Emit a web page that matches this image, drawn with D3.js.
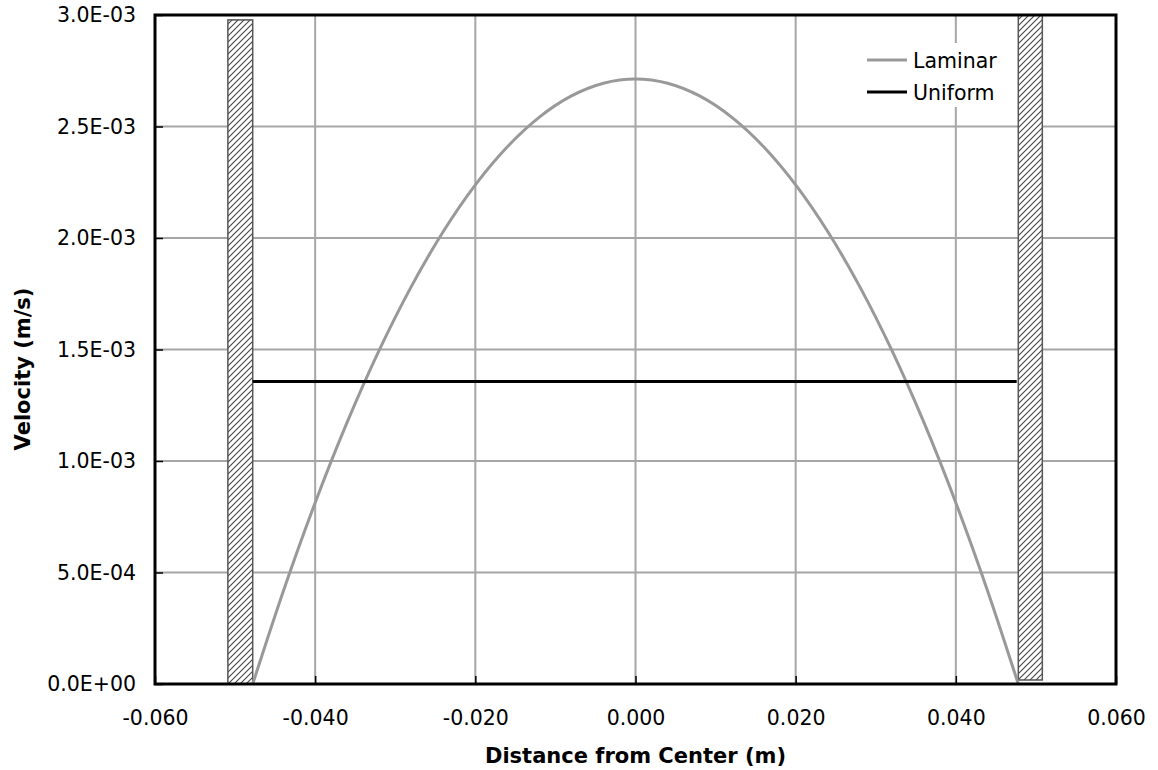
<!DOCTYPE html>
<html>
<head>
<meta charset="utf-8">
<script src="https://cdn.jsdelivr.net/npm/d3@7"></script>
<style>
  html, body { margin: 0; padding: 0; background: #fff; }
  svg { display: block; }
  text { font-family: "DejaVu Sans", Verdana, sans-serif; fill: #000; }
</style>
</head>
<body>
<svg id="chart" width="1158" height="770"></svg>
<script>
// Velocity profiles across the pipe
const positions = [-0.0478, -0.044, -0.040, -0.036, -0.032, -0.028, -0.024, -0.020, -0.016, -0.012, -0.008, -0.004,
                   0.000, 0.004, 0.008, 0.012, 0.016, 0.020, 0.024, 0.028, 0.032, 0.036, 0.040, 0.044, 0.0478];
const laminar = [0, 0.414e-3, 0.813e-3, 1.174e-3, 1.497e-3, 1.782e-3, 2.029e-3, 2.238e-3, 2.409e-3, 2.542e-3, 2.637e-3, 2.694e-3,
                 2.713e-3, 2.694e-3, 2.637e-3, 2.542e-3, 2.409e-3, 2.238e-3, 2.029e-3, 1.782e-3, 1.497e-3, 1.174e-3, 0.813e-3, 0.414e-3, 0];
const uniformX = [-0.0478, 0.0476];
const uniform = [1.357e-3, 1.357e-3];

// Pipe walls: [x0, x1, yBottom, yTop]
const walls = [
  [-0.0509, -0.0478, 0, 2.978e-3],
  [0.0478, 0.0508, 0.000018, 3.0e-3]
];

const xTicks = [-0.06, -0.04, -0.02, 0, 0.02, 0.04, 0.06];
const yTicks = [0, 0.5e-3, 1.0e-3, 1.5e-3, 2.0e-3, 2.5e-3, 3.0e-3];
const seriesNames = ["Laminar", "Uniform"];
const seriesColors = ["#999999", "#000000"];

const svg = d3.select("#chart");
const plotL = 155, plotR = 1116, plotT = 15, plotB = 684;

const x = d3.scaleLinear().domain([-0.06, 0.06]).range([plotL, plotR]);
const y = d3.scaleLinear().domain([0, 3.0e-3]).range([plotB, plotT]);

// Hatch pattern for walls: forward diagonals
const defs = svg.append("defs");
const pat = defs.append("pattern")
  .attr("id", "hatch").attr("patternUnits", "userSpaceOnUse")
  .attr("width", 6).attr("height", 6);
pat.append("rect").attr("width", 6).attr("height", 6).attr("fill", "#fff");
pat.append("path").attr("d", "M0,6 L6,0 M-1.5,1.5 L1.5,-1.5 M4.5,7.5 L7.5,4.5")
  .attr("stroke", "#444").attr("stroke-width", 1.1);

// Grid
const grid = svg.append("g");
grid.selectAll(".vg").data(xTicks.slice(1, -1)).join("line")
  .attr("x1", d => x(d)).attr("x2", d => x(d)).attr("y1", plotT).attr("y2", plotB)
  .attr("stroke", "#a6a6a6").attr("stroke-width", 2);
grid.selectAll(".hg").data(yTicks.slice(1, -1)).join("line")
  .attr("x1", plotL).attr("x2", plotR).attr("y1", d => y(d)).attr("y2", d => y(d))
  .attr("stroke", "#a6a6a6").attr("stroke-width", 2);

// Walls
svg.append("g").selectAll("rect").data(walls).join("rect")
  .attr("x", d => x(d[0])).attr("width", d => x(d[1]) - x(d[0]))
  .attr("y", d => y(d[3])).attr("height", d => y(d[2]) - y(d[3]))
  .attr("fill", "url(#hatch)").attr("stroke", "#555").attr("stroke-width", 1.5);

// Series
const lamLine = d3.line().x((d, i) => x(positions[i])).y(d => y(d)).curve(d3.curveMonotoneX);
svg.append("path").datum(laminar).attr("d", lamLine)
  .attr("fill", "none").attr("stroke", seriesColors[0]).attr("stroke-width", 3);

const uniLine = d3.line().x((d, i) => x(uniformX[i])).y(d => y(d));
svg.append("path").datum(uniform).attr("d", uniLine)
  .attr("fill", "none").attr("stroke", seriesColors[1]).attr("stroke-width", 3);

// Axes
const xAxis = d3.axisBottom(x).tickValues(xTicks).tickSize(-8).tickPadding(26)
  .tickFormat(d => d3.format(".3f")(d).replace("\u2212", "-"));
const gx = svg.append("g").attr("transform", `translate(0,${plotB})`).call(xAxis);
gx.select(".domain").remove();
gx.selectAll("line").attr("stroke", "#000").attr("stroke-width", 1.5);
gx.selectAll("text").attr("font-size", "20.5px")
  .attr("font-family", "'DejaVu Sans', Verdana, sans-serif");

const sci = d => {
  const [m, e] = d.toExponential(1).split("e");
  const ev = parseInt(e, 10);
  return `${m}E${ev < 0 ? "-" : "+"}${String(Math.abs(ev)).padStart(2, "0")}`;
};
const yAxis = d3.axisLeft(y).tickValues(yTicks).tickSize(-8).tickPadding(19).tickFormat(sci);
const gy = svg.append("g").attr("transform", `translate(${plotL},0)`).call(yAxis);
gy.select(".domain").remove();
gy.selectAll("line").attr("stroke", "#000").attr("stroke-width", 1.5);
gy.selectAll("text").attr("font-size", "20.5px")
  .attr("font-family", "'DejaVu Sans', Verdana, sans-serif");

// Frame
svg.append("rect").attr("x", plotL).attr("y", plotT)
  .attr("width", plotR - plotL).attr("height", plotB - plotT)
  .attr("fill", "none").attr("stroke", "#000").attr("stroke-width", 3);

// Axis titles
svg.append("text").attr("x", (plotL + plotR) / 2).attr("y", 763)
  .attr("text-anchor", "middle").attr("font-size", "21px").attr("font-weight", "bold")
  .text("Distance from Center (m)");
svg.append("text").attr("transform", "translate(30,369) rotate(-90)")
  .attr("text-anchor", "middle").attr("font-size", "21px").attr("font-weight", "bold")
  .text("Velocity (m/s)");

// Legend
const lg = svg.append("g");
lg.append("rect").attr("x", 860).attr("y", 43).attr("width", 150).attr("height", 64).attr("fill", "#fff");
seriesNames.forEach((name, i) => {
  const ly = 60 + i * 32;
  lg.append("line").attr("x1", 867).attr("x2", 907).attr("y1", ly).attr("y2", ly)
    .attr("stroke", seriesColors[i]).attr("stroke-width", 3);
  lg.append("text").attr("x", 913).attr("y", ly + 7.5).attr("font-size", "20.5px").text(name);
});
</script>
</body>
</html>
